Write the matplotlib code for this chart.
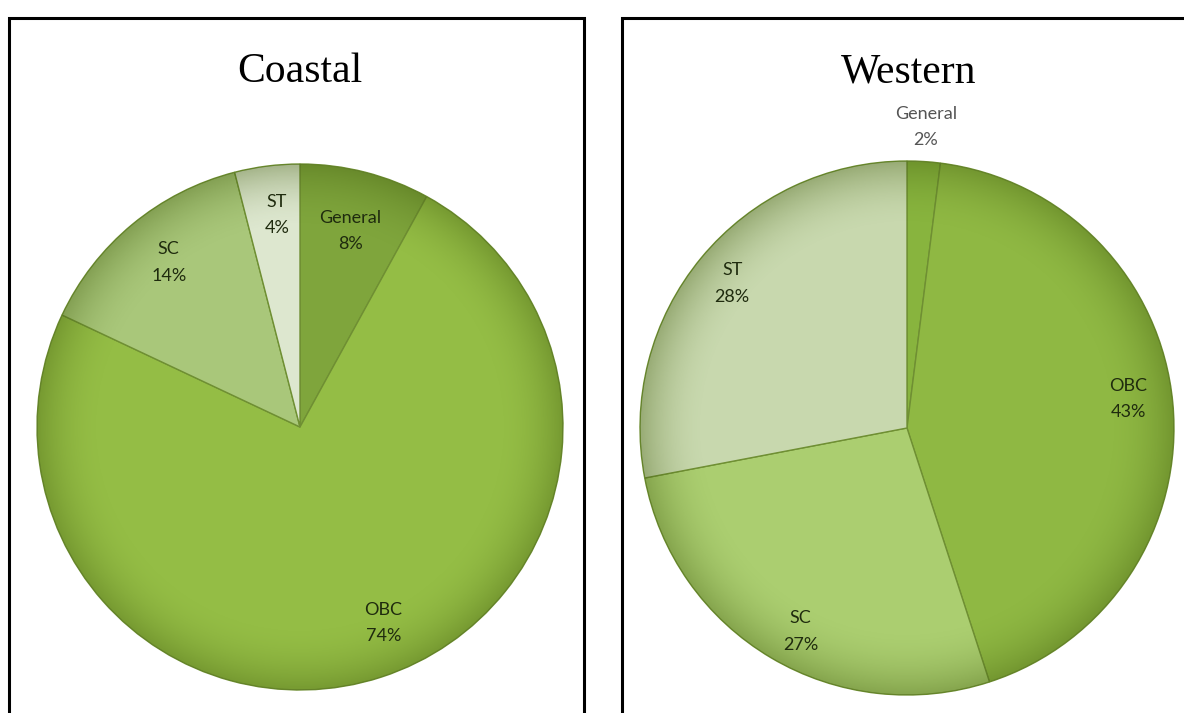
import numpy as np
import matplotlib.pyplot as plt
from matplotlib.patches import Rectangle, Circle

# data
categories = ["General", "OBC", "SC", "ST"]
coastal_vals = [8, 74, 14, 4]
western_vals = [2, 43, 27, 28]

coastal_colors = ["#7fa53c", "#94bd45", "#a9c77a", "#dde7cf"]
western_colors = ["#88b43e", "#8fb843", "#abce70", "#c8d8ae"]

# label placement: distance from centre (fraction of radius) and angle nudge (deg)
coastal_lab_r = [0.77, 0.81, 0.80, 0.81]
coastal_lab_da = [0, 5, -1, -1]
western_lab_r = [1.13, 0.835, 0.86, 0.85]
western_lab_da = [0, 2, 3, 0]


def draw_pie(ax, vals, colors, lab_r, lab_da, label_colors):
    wedges, _ = ax.pie(vals, colors=colors, startangle=90, counterclock=False,
                       radius=1.0, wedgeprops=dict(edgecolor="#6f8f33", linewidth=1.0))
    ax.set_xlim(-1.0, 1.0)
    ax.set_ylim(-1.0, 1.0)
    ax.set_aspect("auto")
    ax.axis("off")

    # soft shading towards the rim
    n = 400
    xx, yy = np.meshgrid(np.linspace(-1, 1, n), np.linspace(-1, 1, n))
    rr = np.sqrt(xx ** 2 + yy ** 2)
    shade = np.zeros((n, n, 4))
    shade[..., 0] = 0.25
    shade[..., 1] = 0.35
    shade[..., 2] = 0.05
    shade[..., 3] = np.clip((rr - 0.75) / 0.25, 0, 1) ** 2 * 0.35
    im = ax.imshow(shade, extent=(-1, 1, -1, 1), origin="lower", zorder=3)
    im.set_clip_path(Circle((0, 0), 1.0, transform=ax.transData))

    for w, cat, v, r, da, c in zip(wedges, categories, vals, lab_r, lab_da, label_colors):
        ang = np.deg2rad((w.theta1 + w.theta2) / 2 + da)
        ax.text(r * np.cos(ang), r * np.sin(ang), f"{cat}\n{v}%",
                ha="center", va="center", fontsize=13, family="Lato",
                color=c, linespacing=1.8, zorder=4)


fig = plt.figure(figsize=(11.84, 7.13), dpi=100)

# panel frames (bottom cut off, right frame runs off the edge)
fig.patches.append(Rectangle((9 / 1184, -0.05), 575 / 1184, 1.05 - 18 / 713,
                             transform=fig.transFigure, fill=False,
                             edgecolor="black", linewidth=2.2))
fig.patches.append(Rectangle((622 / 1184, -0.05), 600 / 1184, 1.05 - 18 / 713,
                             transform=fig.transFigure, fill=False,
                             edgecolor="black", linewidth=2.2))

ax1 = fig.add_axes([(300 - 263) / 1184, 1 - (427 + 263) / 713, 526 / 1184, 526 / 713])
draw_pie(ax1, coastal_vals, coastal_colors, coastal_lab_r, coastal_lab_da, ["#1f2b0e"] * 4)

ax2 = fig.add_axes([(907 - 268) / 1184, 1 - (428 + 267) / 713, 536 / 1184, 534 / 713])
draw_pie(ax2, western_vals, western_colors, western_lab_r, western_lab_da,
         ["#555555", "#1f2b0e", "#1f2b0e", "#1f2b0e"])

fig.text(300 / 1184, 1 - 72 / 713, "Coastal", ha="center", va="center",
         fontsize=30, family="Liberation Serif")
fig.text(909 / 1184, 1 - 72 / 713, "Western", ha="center", va="center",
         fontsize=30, family="Liberation Serif")

fig.savefig("out.png", dpi=100)
